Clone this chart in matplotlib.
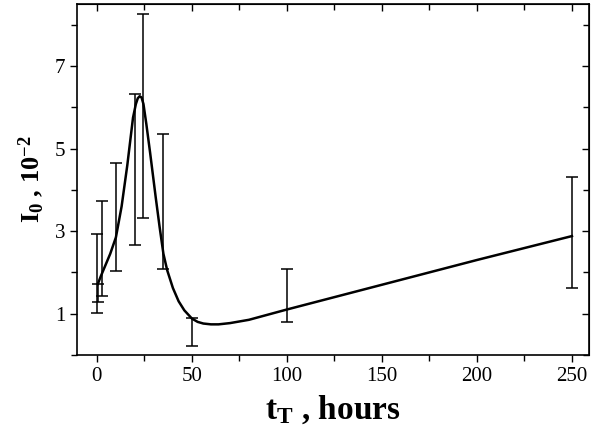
import matplotlib
matplotlib.use("Agg")
import numpy as np
import matplotlib.pyplot as plt
from matplotlib.ticker import MultipleLocator

# ---------------- data ----------------
# error bars: time (h), lower and upper ends (units of 10^-2)
t_err = [0, 0.5, 2.5, 10, 20, 24, 35, 50, 100, 250]
err_lo = [1.02, 1.29, 1.42, 2.03, 2.66, 3.31, 2.08, 0.22, 0.80, 1.62]
err_hi = [2.93, 1.72, 3.72, 4.65, 6.32, 8.27, 5.35, 0.90, 2.07, 4.31]

# smooth curve through the data
t_curve = [0.5, 2, 4, 7, 10, 13, 16, 19, 20.5, 21.5, 22.5, 23.5, 24.5,
           26, 28, 31, 33, 35, 37, 40, 43, 46, 50, 53, 56, 60, 64, 70,
           80, 100, 150, 200, 250]
i_curve = [1.72, 1.90, 2.12, 2.45, 2.85, 3.60, 4.60, 5.75, 6.08, 6.22,
           6.27, 6.24, 6.08, 5.60, 4.90, 3.80, 3.10, 2.45, 2.05, 1.62,
           1.30, 1.08, 0.88, 0.80, 0.76, 0.74, 0.74, 0.77, 0.85, 1.10,
           1.70, 2.30, 2.88]

# ---------------- style ----------------
plt.rcParams["font.family"] = ["Liberation Serif", "DejaVu Serif"]
plt.rcParams["mathtext.fontset"] = "custom"
plt.rcParams["mathtext.rm"] = "Liberation Serif"
plt.rcParams["mathtext.bf"] = "Liberation Serif:bold"
plt.rcParams["mathtext.it"] = "Liberation Serif:italic"

fig = plt.figure(figsize=(5.92, 4.25), dpi=100)
ax = fig.add_axes([0.130, 0.165, 0.865, 0.825])

lo = np.array(err_lo)
hi = np.array(err_hi)
mid = (lo + hi) / 2
ax.errorbar(t_err, mid, yerr=(hi - lo) / 2, fmt="none", ecolor="black",
            elinewidth=1.1, capsize=4, capthick=1.1)
ax.plot(t_curve, i_curve, color="black", lw=1.8, solid_joinstyle="round")

ax.set_xlim(-10.5, 259)
ax.set_ylim(0, 8.5)

ax.xaxis.set_major_locator(MultipleLocator(50))
ax.xaxis.set_minor_locator(MultipleLocator(25))
ax.set_yticks([1, 3, 5, 7])
ax.yaxis.set_minor_locator(MultipleLocator(1))

ax.tick_params(axis="both", which="major", labelsize=15, length=5,
               width=1, direction="out")
ax.tick_params(axis="both", which="minor", length=4, width=1, direction="out")

# inward ticks on top and right, no labels
top = ax.secondary_xaxis("top")
top.xaxis.set_major_locator(MultipleLocator(50))
top.xaxis.set_minor_locator(MultipleLocator(25))
top.tick_params(which="major", direction="in", length=5, width=1,
                labeltop=False)
top.tick_params(which="minor", direction="in", length=4, width=1)
right = ax.secondary_yaxis("right")
right.set_yticks([1, 3, 5, 7])
right.yaxis.set_minor_locator(MultipleLocator(1))
right.tick_params(which="major", direction="in", length=5, width=1,
                  labelright=False)
right.tick_params(which="minor", direction="in", length=4, width=1)

ax.set_xlabel(r"$\mathbf{t_T}$ , hours", fontsize=24, fontweight="bold",
              labelpad=6)
ax.set_ylabel(r"$\mathbf{I_0}$ , $\mathbf{10^{-2}}$", fontsize=19,
              fontweight="bold", labelpad=6)

for s in ax.spines.values():
    s.set_linewidth(1.2)

fig.savefig("out.png", dpi=100)
